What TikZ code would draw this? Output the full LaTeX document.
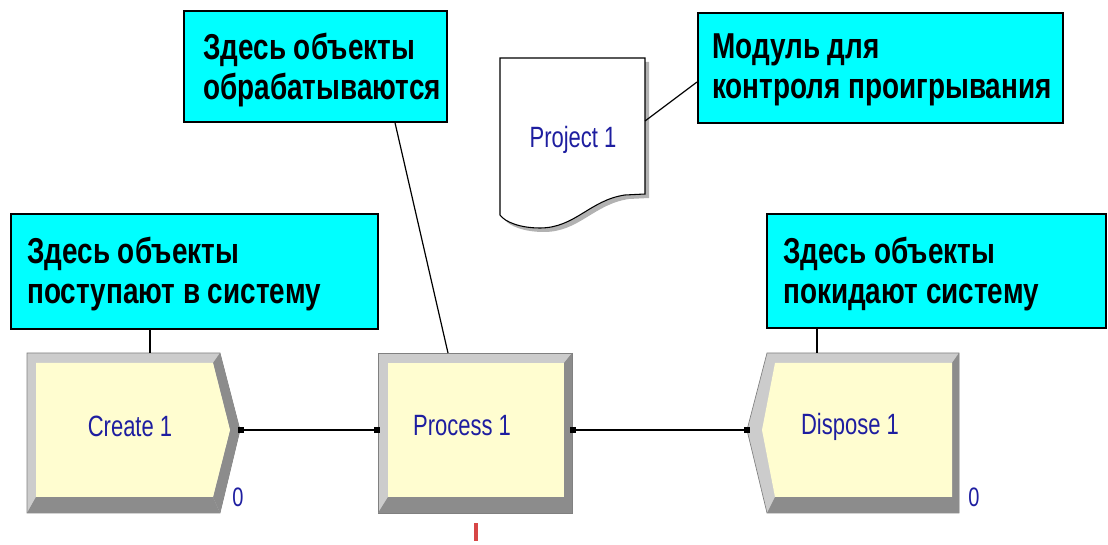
\documentclass[tikz,border=0pt]{standalone}
\usepackage{fontspec}
\usetikzlibrary{calc}
\newfontfamily\calloutfont[FakeStretch=0.775]{Liberation Sans Bold}
\newfontfamily\modfont[FakeStretch=0.75]{Liberation Sans}
\definecolor{calloutcyan}{RGB}{0,255,255}
\definecolor{modyellow}{RGB}{255,253,208}
\definecolor{bevellight}{RGB}{204,204,204}
\definecolor{beveldark}{RGB}{140,140,140}
\definecolor{labelblue}{RGB}{30,30,160}
\definecolor{busyred}{RGB}{215,70,70}
\tikzset{
  callout/.style={draw=black, line width=1.3pt, fill=calloutcyan, anchor=north west, inner sep=0pt},
  callouttext/.style={anchor=west, align=left, inner sep=0pt,
    font=\calloutfont\fontsize{27}{30}\selectfont},
  leader/.style={draw=black, line width=0.9pt},
  modlabel/.style={text=labelblue, inner sep=0pt, font=\modfont\fontsize{22}{24}\selectfont},
  counter/.style={text=labelblue, inner sep=0pt, font=\modfont\fontsize{20}{22}\selectfont},
  conn/.style={draw=black, line width=1.2pt},
  port/.style={fill=black, draw=none, rectangle, minimum size=4pt, inner sep=0pt},
  light/.style={fill=bevellight, draw=gray, line width=0.5pt},
  dark/.style={fill=beveldark, draw=none},
  face/.style={fill=modyellow, draw=none}
}
\begin{document}
\begin{tikzpicture}[x=0.75pt, y=-0.75pt]
\useasboundingbox (0,0) rectangle (1108,545);

% ---------- Create module ----------
\path[light] (27,353) -- (220,353) -- (240,430) -- (220,513) -- (27,513) -- cycle;
\path[dark] (27,513) -- (220,513) -- (213,497) -- (36,497) -- cycle;
\path[dark] (220,353) -- (240,430) -- (220,513) -- (213,497) -- (230,430) -- (213,363) -- cycle;
\path[face] (36,363) -- (213,363) -- (230,430) -- (213,497) -- (36,497) -- cycle;
\node[modlabel] (create) at (130,426) {Create 1};
\node[counter] (createcount) at (238,497) {0};
\coordinate (create-top) at (150,353);
\coordinate (create-out) at (241,430);

% ---------- Process module ----------
\path[light] (378,353) rectangle (572,513);
\path[dark] (378,513) -- (572,513) -- (572,353) -- (564,363) -- (564,497) -- (388,497) -- cycle;
\path[face] (388,363) rectangle (564,497);
\node[modlabel] (process) at (462,426) {Process 1};
\node[fill=busyred, minimum width=3.6pt, minimum height=13pt, inner sep=0pt] (busy) at (476,532) {};
\coordinate (process-top) at (448,353);
\coordinate (process-in) at (377,430);
\coordinate (process-out) at (573,430);

% ---------- Dispose module ----------
\path[light] (767,353) -- (959,353) -- (959,513) -- (767,513) -- (747,430) -- cycle;
\path[dark] (767,513) -- (959,513) -- (959,353) -- (952,363) -- (952,497) -- (775,497) -- cycle;
\path[face] (775,363) -- (952,363) -- (952,497) -- (775,497) -- (762,430) -- cycle;
\node[modlabel] (dispose) at (850,427) {Dispose 1};
\node[counter] (disposecount) at (974,497) {0};
\coordinate (dispose-top) at (817,353);
\coordinate (dispose-in) at (747,430);

% ---------- connectors ----------
\draw[conn] (create-out) -- (process-in);
\draw[conn] (process-out) -- (dispose-in);
\node[port] at (create-out) {};
\node[port] at (process-in) {};
\node[port] at (process-out) {};
\node[port] at (dispose-in) {};

% ---------- Project sheet ----------
\path[fill=gray!60] (504,62) -- (649,62) -- (649,198)
  -- (629,199) .. controls (594,204) and (579,232) .. (544,232)
  .. controls (524,232) and (509,226) .. (504,219) -- cycle;
\path[fill=white, draw=black, line width=0.8pt] (500,58) -- (645,58) -- (645,194)
  -- (625,195) .. controls (590,200) and (575,228) .. (540,228)
  .. controls (520,228) and (505,222) .. (500,215) -- cycle;
\node[modlabel] (project) at (573,140) {Project 1};
\coordinate (project-side) at (645,121);

% ---------- callouts ----------
\node[callout, minimum width=197.25pt, minimum height=83.25pt] (cproc) at (183,10) {};
\node[callouttext] (cproctext) at ($(cproc.west)+(20,4)$) {Здесь объекты\\обрабатываются};

\node[callout, minimum width=275.25pt, minimum height=86.25pt] (ccreate) at (10,213) {};
\node[callouttext] (ccreatetext) at ($(ccreate.west)+(17,3)$) {Здесь объекты\\поступают в систему};

\node[callout, minimum width=254.25pt, minimum height=85.5pt] (cdispose) at (766,213) {};
\node[callouttext] (cdisposetext) at ($(cdispose.west)+(17,3)$) {Здесь объекты\\покидают систему};

\node[callout, minimum width=273.75pt, minimum height=82.5pt] (cmodule) at (697,12) {};
\node[callouttext] (cmoduletext) at ($(cmodule.west)+(15,2)$) {Модуль для\\контроля проигрывания};

% ---------- leaders ----------
\draw[leader] ($(cproc.south west)+(212,0)$) -- (process-top);
\draw[leader] ($(ccreate.south west)+(140,0)$) -- (create-top);
\draw[leader] ($(cdispose.south west)+(51,0)$) -- (dispose-top);
\draw[leader] ($(cmodule.north west)+(0,70)$) -- (project-side);
\end{tikzpicture}
\end{document}
